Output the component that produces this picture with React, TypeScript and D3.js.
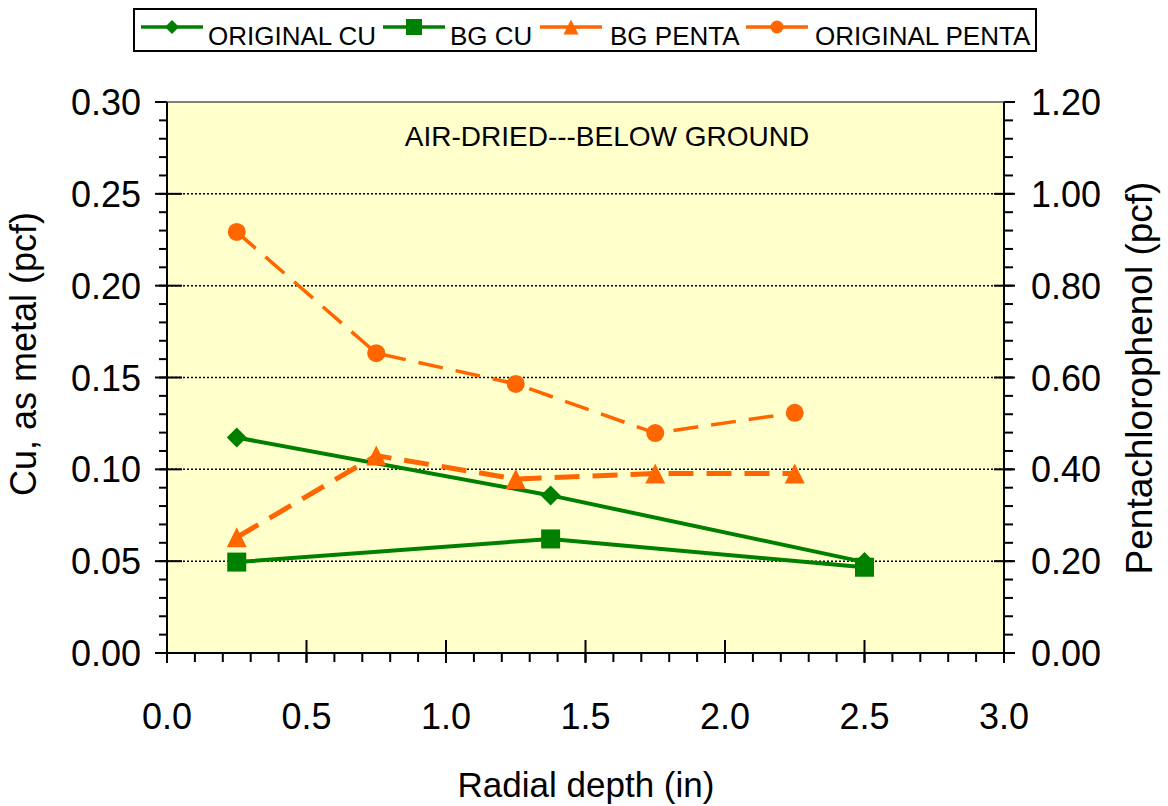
import React from "react";
import * as d3 from "d3";

// Radial depth (in) at which each sample was taken
const depthCu = [0.25, 1.375, 2.5];
const depthPenta = [0.25, 0.75, 1.25, 1.75, 2.25];

// Copper retention, as metal (pcf) – left axis
const originalCu = [0.1173, 0.0858, 0.0495];
const bgCu = [0.0495, 0.0621, 0.0467];

// Pentachlorophenol retention (pcf) – right axis
const bgPenta = [0.252, 0.43, 0.379, 0.391, 0.391];
const originalPenta = [0.917, 0.653, 0.586, 0.479, 0.523];

// Axis ticks
const xTicks = [0, 0.5, 1.0, 1.5, 2.0, 2.5, 3.0];
const xTickLabels = ["0.0", "0.5", "1.0", "1.5", "2.0", "2.5", "3.0"];
const leftTicks = [0, 0.05, 0.1, 0.15, 0.2, 0.25, 0.3];
const leftTickLabels = ["0.00", "0.05", "0.10", "0.15", "0.20", "0.25", "0.30"];
const rightTicks = [0, 0.2, 0.4, 0.6, 0.8, 1.0, 1.2];
const rightTickLabels = ["0.00", "0.20", "0.40", "0.60", "0.80", "1.00", "1.20"];

const seriesNames = ["ORIGINAL CU", "BG CU", "BG PENTA", "ORIGINAL PENTA"];

const GREEN = "#008000";
const ORANGE = "#ff6600";
const FONT = "'Liberation Sans', Arial, Helvetica, sans-serif";

const W = 1168;
const H = 806;
const plot = { left: 167, right: 1004, top: 102, bottom: 653 };

type Shape = "diamond" | "square" | "triangle" | "circle";

function Marker({ shape, x, y, size, color }: { shape: Shape; x: number; y: number; size: number; color: string }) {
  const h = size / 2;
  if (shape === "diamond") {
    return <polygon points={`${x},${y - h} ${x + h},${y} ${x},${y + h} ${x - h},${y}`} fill={color} />;
  }
  if (shape === "square") {
    return <rect x={x - h} y={y - h} width={size} height={size} fill={color} />;
  }
  if (shape === "triangle") {
    return <polygon points={`${x},${y - h} ${x + h},${y + h} ${x - h},${y + h}`} fill={color} />;
  }
  return <circle cx={x} cy={y} r={h} fill={color} />;
}

export default function App() {
  const x = d3.scaleLinear().domain([0, 3]).range([plot.left, plot.right]);
  const yL = d3.scaleLinear().domain([0, 0.3]).range([plot.bottom, plot.top]);
  const yR = d3.scaleLinear().domain([0, 1.2]).range([plot.bottom, plot.top]);

  const lineL = d3
    .line<[number, number]>()
    .x((d) => x(d[0]))
    .y((d) => yL(d[1]));
  const lineR = d3
    .line<[number, number]>()
    .x((d) => x(d[0]))
    .y((d) => yR(d[1]));

  const zip = (xs: number[], ys: number[]) => xs.map((v, i) => [v, ys[i]] as [number, number]);

  const series = [
    { name: seriesNames[0], pts: zip(depthCu, originalCu), line: lineL, y: yL, color: GREEN, shape: "diamond" as Shape, width: 4, dash: undefined as string | undefined, size: 20 },
    { name: seriesNames[1], pts: zip(depthCu, bgCu), line: lineL, y: yL, color: GREEN, shape: "square" as Shape, width: 4, dash: undefined, size: 19 },
    { name: seriesNames[2], pts: zip(depthPenta, bgPenta), line: lineR, y: yR, color: ORANGE, shape: "triangle" as Shape, width: 5, dash: "25,13", size: 20 },
    { name: seriesNames[3], pts: zip(depthPenta, originalPenta), line: lineR, y: yR, color: ORANGE, shape: "circle" as Shape, width: 3.5, dash: "25,13", size: 18 },
  ];

  const xMinor = d3.range(0, 31).map((i) => i / 10);
  const yMinor = d3.range(0, 31).map((i) => i / 100);

  // Legend layout: line sample start and label start for each entry
  const legendLineX = [141, 383, 540, 746];
  const legendTextX = [208, 450, 610, 815];
  const legendSizes = [14, 16, 15, 13];

  return (
    <svg width={W} height={H} style={{ position: "absolute", left: 0, top: 0 }} fontFamily={FONT}>
      <rect x={0} y={0} width={W} height={H} fill="#ffffff" />

      {/* plot area */}
      <rect x={plot.left} y={plot.top} width={plot.right - plot.left} height={plot.bottom - plot.top} fill="#ffffcc" />
      <line x1={plot.left} x2={plot.right} y1={plot.top} y2={plot.top} stroke="#555" strokeWidth={1.5} />

      {/* dotted gridlines */}
      {leftTicks.slice(1, -1).map((t) => (
        <line key={`g${t}`} x1={plot.left} x2={plot.right} y1={yL(t)} y2={yL(t)} stroke="#000" strokeWidth={1.5} strokeDasharray="2,2" />
      ))}

      {/* left axis */}
      <line x1={plot.left} x2={plot.left} y1={plot.top} y2={plot.bottom} stroke="#000" strokeWidth={2} />
      {yMinor.map((t) => (
        <line key={`lm${t}`} x1={plot.left - 8} x2={plot.left} y1={yL(t)} y2={yL(t)} stroke="#000" strokeWidth={2} />
      ))}
      {leftTicks.map((t, i) => (
        <g key={`lt${t}`}>
          <line x1={plot.left - 12} x2={plot.left + (i > 0 && i < leftTicks.length - 1 ? 15 : 0)} y1={yL(t)} y2={yL(t)} stroke="#000" strokeWidth={2} />
          <text x={141} y={yL(t) + 13} fontSize={36} textAnchor="end" fill="#000">
            {leftTickLabels[i]}
          </text>
        </g>
      ))}

      {/* right axis */}
      <line x1={plot.right} x2={plot.right} y1={plot.top} y2={plot.bottom} stroke="#000" strokeWidth={2} />
      {yMinor.map((t) => (
        <line key={`rm${t}`} x1={plot.right} x2={plot.right + 9} y1={yL(t)} y2={yL(t)} stroke="#000" strokeWidth={2} />
      ))}
      {rightTicks.map((t, i) => (
        <g key={`rt${t}`}>
          <line x1={plot.right - (i > 0 && i < rightTicks.length - 1 ? 10 : 0)} x2={plot.right + 11} y1={yR(t)} y2={yR(t)} stroke="#000" strokeWidth={2} />
          <text x={1031} y={yR(t) + 13} fontSize={36} textAnchor="start" fill="#000">
            {rightTickLabels[i]}
          </text>
        </g>
      ))}

      {/* bottom axis */}
      <line x1={plot.left - 12} x2={plot.right + 11} y1={plot.bottom} y2={plot.bottom} stroke="#000" strokeWidth={2} />
      {xMinor.map((t) => (
        <line key={`xm${t}`} x1={x(t)} x2={x(t)} y1={plot.bottom} y2={plot.bottom + 9} stroke="#000" strokeWidth={2} />
      ))}
      {xTicks.map((t, i) => (
        <g key={`xt${t}`}>
          <line x1={x(t)} x2={x(t)} y1={plot.bottom - (i > 0 && i < xTicks.length - 1 ? 13 : 0)} y2={plot.bottom + 10} stroke="#000" strokeWidth={2} />
          <text x={x(t)} y={729} fontSize={36} textAnchor="middle" fill="#000">
            {xTickLabels[i]}
          </text>
        </g>
      ))}

      {/* series */}
      {series.map((s) => (
        <g key={s.name}>
          <path d={s.line(s.pts) ?? ""} fill="none" stroke={s.color} strokeWidth={s.width} strokeDasharray={s.dash} />
          {s.pts.map((p, i) => (
            <Marker key={i} shape={s.shape} x={x(p[0])} y={s.y(p[1])} size={s.size} color={s.color} />
          ))}
        </g>
      ))}

      {/* in-plot title */}
      <text x={607} y={146} fontSize={28} textAnchor="middle" fill="#000">
        AIR-DRIED---BELOW GROUND
      </text>

      {/* axis titles */}
      <text x={586} y={797} fontSize={35} textAnchor="middle" fill="#000">
        Radial depth (in)
      </text>
      <text transform={`translate(36, 354) rotate(-90)`} fontSize={36} textAnchor="middle" fill="#000">
        Cu, as metal (pcf)
      </text>
      <text transform={`translate(1152, 378) rotate(-90)`} fontSize={37} textAnchor="middle" fill="#000">
        Pentachlorophenol (pcf)
      </text>

      {/* legend */}
      <rect x={134} y={9} width={902} height={42} fill="#ffffff" stroke="#000" strokeWidth={2} />
      {series.map((s, i) => (
        <g key={`lg${s.name}`}>
          <line x1={legendLineX[i]} x2={legendLineX[i] + 62} y1={27} y2={27} stroke={s.color} strokeWidth={3.5} />
          <Marker shape={s.shape} x={legendLineX[i] + 31} y={27} size={legendSizes[i]} color={s.color} />
          <text x={legendTextX[i]} y={45} fontSize={26} fill="#000">
            {s.name}
          </text>
        </g>
      ))}
    </svg>
  );
}
